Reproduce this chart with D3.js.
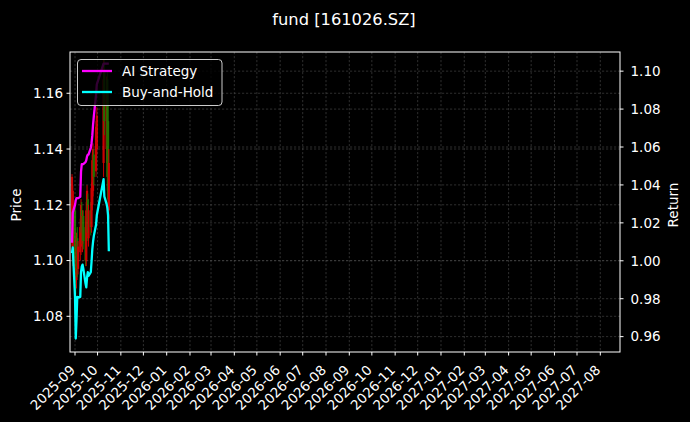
<!DOCTYPE html>
<html><head><meta charset="utf-8">
<script src="https://cdn.jsdelivr.net/npm/d3@7"></script>
<style>
html,body{margin:0;padding:0;background:#000;}
svg{display:block;font-family:"DejaVu Sans",sans-serif;}
</style></head>
<body>
<svg id="chart" width="690" height="422"></svg>
<script>
const title = "fund [161026.SZ]";
const dates = ["2025-08-28","2025-08-29","2025-09-01","2025-09-02","2025-09-03","2025-09-04","2025-09-05",
"2025-09-08","2025-09-09","2025-09-10","2025-09-11","2025-09-12","2025-09-15","2025-09-16","2025-09-17",
"2025-09-18","2025-09-19","2025-09-22","2025-09-23","2025-09-24","2025-09-25","2025-09-26","2025-09-29",
"2025-09-30","2025-10-09","2025-10-10","2025-10-13","2025-10-14","2025-10-15","2025-10-16"];
const open  = [1.114,1.105,1.118,1.100,1.093,1.108,1.097,1.103,1.105,1.118,1.106,1.116,1.112,1.100,1.110,1.122,1.108,1.118,1.112,1.120,1.125,1.138,1.132,1.140,1.135,1.168,1.140,1.165,1.150,1.118];
const high  = [1.131,1.127,1.120,1.103,1.110,1.112,1.107,1.115,1.122,1.121,1.118,1.118,1.114,1.121,1.127,1.124,1.120,1.121,1.128,1.138,1.142,1.140,1.150,1.155,1.172,1.172,1.166,1.168,1.160,1.140];
const low   = [1.105,1.098,1.095,1.088,1.090,1.094,1.095,1.100,1.102,1.106,1.103,1.104,1.098,1.098,1.108,1.107,1.105,1.109,1.110,1.118,1.123,1.127,1.130,1.138,1.130,1.145,1.135,1.125,1.120,1.115];
const close = [1.130,1.125,1.100,1.092,1.108,1.097,1.105,1.112,1.120,1.110,1.116,1.107,1.100,1.118,1.125,1.110,1.118,1.112,1.126,1.136,1.140,1.130,1.148,1.152,1.165,1.150,1.160,1.130,1.122,1.135];
const aiStrategy = [1.0095,1.0253,1.0295,1.032,1.033,1.033,1.033,1.0337,1.047,1.051,1.051,1.051,1.052,1.053,1.055,1.056,1.056,1.0596,1.062,1.066,1.0717,1.076,1.0875,1.093,1.104,1.104,1.104,1.104,1.104,1.104];
const buyHold = [1.004,1.007,0.981,0.959,0.969,0.981,0.9805,0.981,0.994,0.997,0.998,0.996,0.988,0.986,0.991,0.994,0.992,0.994,0.9995,1.006,1.010,1.013,1.019,1.024,1.043,1.034,1.030,1.028,1.024,1.005];
const priceTicks = [1.08,1.10,1.12,1.14,1.16];
const returnTicks = [0.96,0.98,1.00,1.02,1.04,1.06,1.08,1.10];
const seriesNames = ["AI Strategy","Buy-and-Hold"];
const seriesColors = ["#ff00ff","#00ffff"];

const parse = d3.timeParse("%Y-%m-%d");
const D = dates.map(parse);
const svg = d3.select("#chart");
const L = 70, R = 620, T = 52, B = 352;

const x = d3.scaleTime().domain([new Date(2025,7,25,8), new Date(2027,7,27,5)]).range([L,R]);
const yP = d3.scaleLinear().domain([1.0672,1.1748]).range([B,T]);
const yR = d3.scaleLinear().domain([0.9519,1.1101]).range([B,T]);
const monthTicks = d3.timeMonth.range(new Date(2025,8,1), new Date(2027,8,1));
const fmt = d3.timeFormat("%Y-%m");

svg.append("rect").attr("width",690).attr("height",422).attr("fill","#000");

// grid
const grid = svg.append("g").attr("stroke","#4d4d4d").attr("stroke-width",0.6).attr("stroke-dasharray","2.2,1.8");
monthTicks.forEach(d=>grid.append("line").attr("x1",x(d)).attr("x2",x(d)).attr("y1",T).attr("y2",B));
priceTicks.forEach(v=>grid.append("line").attr("x1",L).attr("x2",R).attr("y1",yP(v)).attr("y2",yP(v)));
returnTicks.forEach(v=>grid.append("line").attr("x1",L).attr("x2",R).attr("y1",yR(v)).attr("y2",yR(v)));

// candles
const cg = svg.append("g").attr("opacity",0.8);
D.forEach((d,i)=>{
  const up = close[i] >= open[i];
  const col = up ? "#ff0000" : "#2a8c00";
  const cx = x(d);
  cg.append("line").attr("x1",cx).attr("x2",cx).attr("y1",yP(high[i])).attr("y2",yP(low[i])).attr("stroke",col).attr("stroke-width",1);
  const y0 = yP(Math.max(open[i],close[i])), y1 = yP(Math.min(open[i],close[i]));
  cg.append("rect").attr("x",cx-1.1).attr("width",2.2).attr("y",y0).attr("height",Math.max(0.8,y1-y0)).attr("fill",col);
});

// lines
const line = arr => d3.line().x((d,i)=>x(D[i])).y(v=>yR(v))(arr);
svg.append("path").attr("d",line(aiStrategy)).attr("fill","none").attr("stroke",seriesColors[0]).attr("stroke-width",2.3).attr("stroke-linejoin","round");
svg.append("path").attr("d",line(buyHold)).attr("fill","none").attr("stroke",seriesColors[1]).attr("stroke-width",2.3).attr("stroke-linejoin","round");

// frame
svg.append("rect").attr("x",L).attr("y",T).attr("width",R-L).attr("height",B-T).attr("fill","none").attr("stroke","#fff").attr("stroke-width",1);

const fs = 13.5;
// left axis
const la = svg.append("g");
priceTicks.forEach(v=>{
  la.append("line").attr("x1",L-3.5).attr("x2",L).attr("y1",yP(v)).attr("y2",yP(v)).attr("stroke","#fff");
  la.append("text").attr("x",L-7).attr("y",yP(v)).attr("dy","0.36em").attr("text-anchor","end").attr("fill","#fff").attr("font-size",fs).text(v.toFixed(2));
});
// right axis
returnTicks.forEach(v=>{
  la.append("line").attr("x1",R).attr("x2",R+3.5).attr("y1",yR(v)).attr("y2",yR(v)).attr("stroke","#fff");
  la.append("text").attr("x",R+10.5).attr("y",yR(v)).attr("dy","0.36em").attr("text-anchor","start").attr("fill","#fff").attr("font-size",fs).text(v.toFixed(2));
});
// x axis
monthTicks.forEach(d=>{
  const tx = x(d);
  la.append("line").attr("x1",tx).attr("x2",tx).attr("y1",B).attr("y2",B+3.5).attr("stroke","#fff");
  la.append("text").attr("transform",`translate(${tx+1},${B+19}) rotate(-45)`).attr("text-anchor","end").attr("fill","#fff").attr("font-size",fs).text(fmt(d));
});
// labels
svg.append("text").attr("transform","translate(21,205) rotate(-90)").attr("text-anchor","middle").attr("fill","#fff").attr("font-size",fs).text("Price");
svg.append("text").attr("transform","translate(678,205) rotate(-90)").attr("text-anchor","middle").attr("fill","#fff").attr("font-size",fs).text("Return");
svg.append("text").attr("x",344).attr("y",24.5).attr("text-anchor","middle").attr("fill","#fff").attr("font-size",16.3).text(title);

// legend
const lg = svg.append("g");
lg.append("rect").attr("x",77.5).attr("y",59.5).attr("width",144.5).attr("height",46).attr("rx",3.5)
  .attr("fill","#000").attr("fill-opacity",0.8).attr("stroke","#cccccc").attr("stroke-width",1);
seriesNames.forEach((n,i)=>{
  const yy = 71 + i*21;
  lg.append("line").attr("x1",82).attr("x2",112).attr("y1",yy).attr("y2",yy).attr("stroke",seriesColors[i]).attr("stroke-width",2.3);
  lg.append("text").attr("x",122).attr("y",yy).attr("dy","0.36em").attr("fill","#fff").attr("font-size",fs).text(n);
});
</script>
</body></html>
